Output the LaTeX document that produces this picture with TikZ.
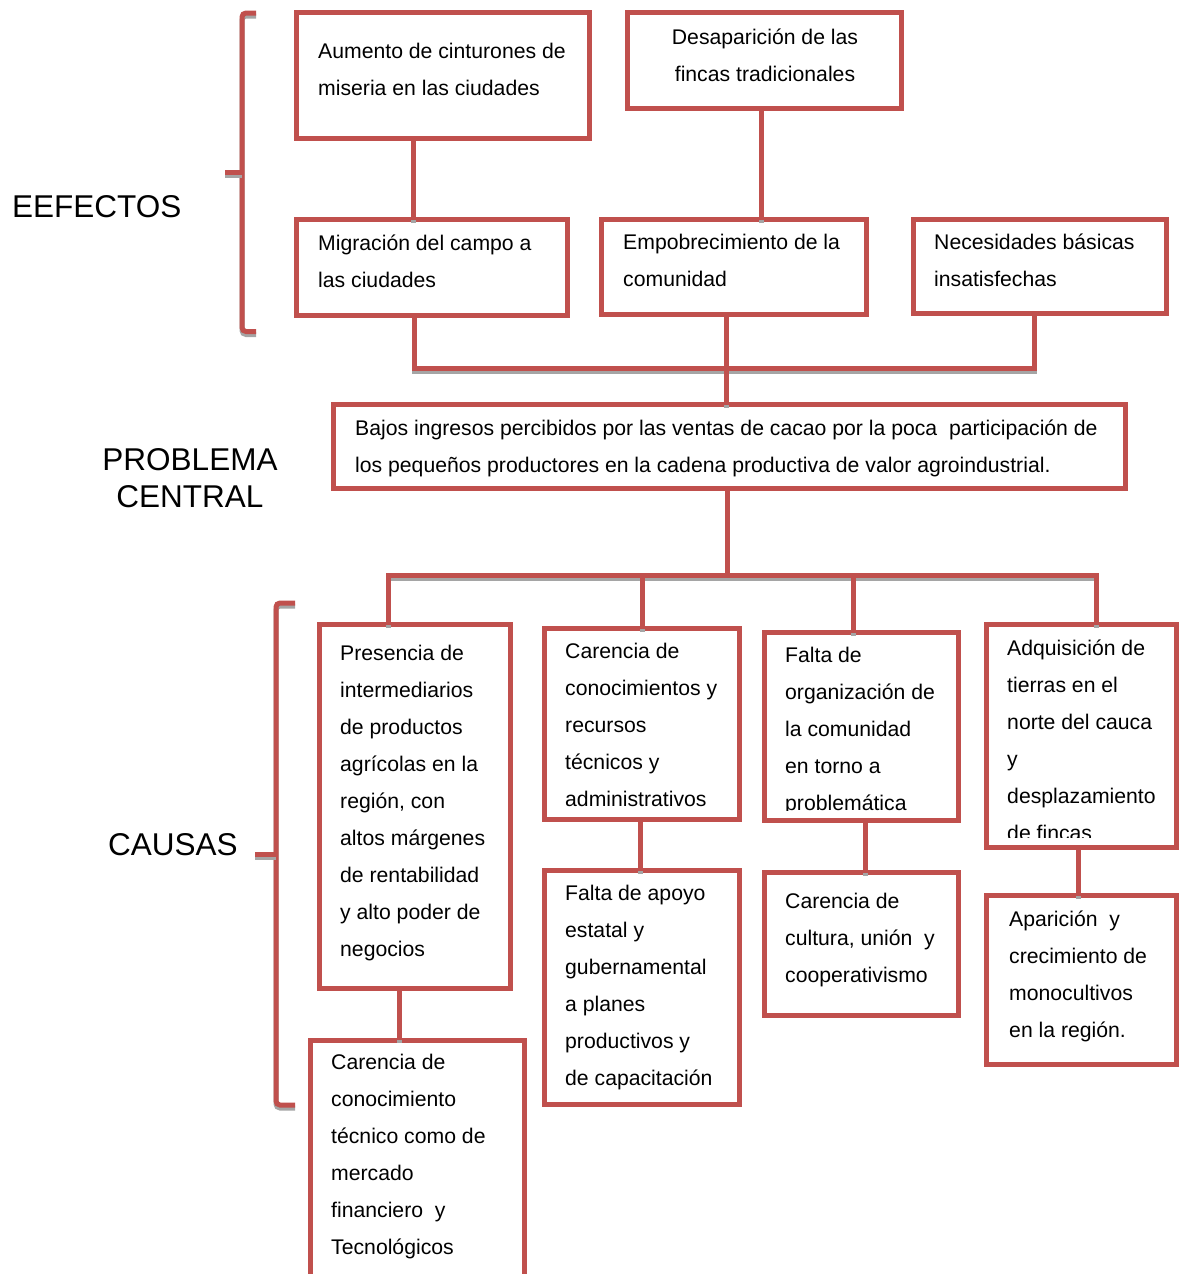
\documentclass[tikz,border=0pt]{standalone}
\usepackage{fontspec}
\setmainfont{Liberation Sans}
\definecolor{boxred}{RGB}{192,80,77}
\definecolor{shade}{RGB}{165,165,165}
\newcommand\boxfont{\fontsize{21.2}{37}\selectfont}
\newcommand\labfont{\fontsize{31.5}{36.5}\selectfont}
\begin{document}
\begin{tikzpicture}[x=1pt,y=-1pt,
  box/.style={draw=boxred, line width=5pt, inner sep=0pt, outer sep=0pt, fill=white},
  txt/.style={anchor=north west, yshift=25.9pt, align=left, inner sep=0pt, font=\boxfont},
  ctxt/.style={anchor=north, yshift=25.9pt, align=center, inner sep=0pt, font=\boxfont},
  lab/.style={inner sep=0pt, font=\labfont},
  conn/.style={draw=boxred, line width=5pt, line join=miter,
    preaction={draw=shade, line width=5pt, transform canvas={xshift=0pt,yshift=-3pt}}},
  brace/.style={draw=boxred, line width=5pt, rounded corners=4pt,
    preaction={draw=shade, line width=5pt, rounded corners=4pt, transform canvas={xshift=0pt,yshift=-3pt}}}]
\useasboundingbox (0,0) rectangle (1181,1274);
\clip (0,0) rectangle (1181,1274);

% ---------- effects ----------
\node[box, minimum width=293pt, minimum height=126pt] (b1) at (443,75.5) {};
\node[box, minimum width=274pt, minimum height=96pt] (b2) at (764.5,60.5) {};
\node[box, minimum width=271pt, minimum height=96pt] (b3) at (432,267.5) {};
\node[box, minimum width=265pt, minimum height=95pt] (b4) at (734,267) {};
\node[box, minimum width=253pt, minimum height=94pt] (b5) at (1040,266.5) {};

\node[txt] (t1) at (318,58) {\strut Aumento de cinturones de\\miseria en las ciudades};
\node[ctxt] (t2) at (765,44) {\strut Desaparición de las\\fincas tradicionales};
\node[txt] (t3) at (318,250) {\strut Migración del campo a\\las ciudades};
\node[txt] (t4) at (623,249) {\strut Empobrecimiento de la\\comunidad};
\node[txt] (t5) at (934,249) {\strut Necesidades básicas\\insatisfechas};

% ---------- central problem ----------
\node[box, minimum width=792pt, minimum height=84pt] (P) at (729.5,446.5) {};
\node[txt] (tP) at (355,435) {\strut Bajos ingresos percibidos por las ventas de cacao por la poca~ participación de\\los pequeños productores en la cadena productiva de valor agroindustrial.};

% ---------- causes ----------
\node[box, minimum width=191pt, minimum height=364pt] (A) at (415,806.5) {};
\node[box, minimum width=195pt, minimum height=191pt] (B) at (642,724) {};
\node[box, minimum width=194pt, minimum height=188pt] (C) at (861.5,726.5) {};
\node[box, minimum width=190pt, minimum height=223pt] (D) at (1081.5,736) {};
\node[box, minimum width=214pt, minimum height=250pt] (E) at (417.5,1165) {};
\node[box, minimum width=195pt, minimum height=234pt] (F) at (642,987.5) {};
\node[box, minimum width=194pt, minimum height=143pt] (G) at (861.5,944) {};
\node[box, minimum width=190pt, minimum height=169pt] (H) at (1081.5,980) {};

\node[txt] (tA) at (340,660) {\strut Presencia de\\intermediarios\\de productos\\agrícolas en la\\región, con\\altos márgenes\\de rentabilidad\\y alto poder de\\negocios};
\node[txt] (tB) at (565,658) {\strut Carencia de\\conocimientos y\\recursos\\técnicos y\\administrativos};
\begin{scope}
  \clip (767,635) rectangle (956,810);
  \node[txt] (tC) at (785,662) {\strut Falta de\\organización de\\la comunidad\\en torno a\\problemática};
\end{scope}
\begin{scope}
  \clip (989,627) rectangle (1174,837);
  \node[txt] (tD) at (1007,655) {\strut Adquisición de\\tierras en el\\norte del cauca\\y\\desplazamiento\\de fincas};
\end{scope}
\node[txt] (tE) at (331,1069) {\strut Carencia de\\conocimiento\\técnico como de\\mercado\\financiero~ y\\Tecnológicos};
\node[txt] (tF) at (565,900) {\strut Falta de apoyo\\estatal y\\gubernamental\\a planes\\productivos y\\de capacitación};
\node[txt] (tG) at (785,908) {\strut Carencia de\\cultura, unión~ y\\cooperativismo};
\node[txt] (tH) at (1009,926) {\strut Aparición~ y\\crecimiento de\\monocultivos\\en la región.};

% ---------- side labels ----------
\node[lab, anchor=west] (lE) at (12,207) {EEFECTOS};
\node[lab, align=center] (lP) at (190,478) {PROBLEMA\\CENTRAL};
\node[lab, anchor=west] (lC) at (108,845) {CAUSAS};

% ---------- connector taps ----------
\coordinate (x1) at (413,0);
\coordinate (x2) at (761,0);
\coordinate (xa) at (414,0);
\coordinate (xb) at (726,0);
\coordinate (xc) at (1034,0);
\coordinate (ebus) at (0,368);
\coordinate (xp) at (727,0);
\coordinate (cbus) at (0,575);
\coordinate (xA) at (388,0);
\coordinate (xB) at (642,0);
\coordinate (xC) at (853,0);
\coordinate (xD) at (1096,0);
\coordinate (xE) at (399,0);
\coordinate (xF) at (640,0);
\coordinate (xG) at (865,0);
\coordinate (xH) at (1078,0);

% ---------- connectors ----------
\draw[conn] (b1.south -| x1) -- (b3.north -| x1);
\draw[conn] (b2.south -| x2) -- (b4.north -| x2);
\draw[conn] (b3.south -| xa) |- (ebus -| xc) -- (b5.south -| xc);
\draw[conn] (b4.south -| xb) -- (P.north -| xb);
\draw[conn] (P.south -| xp) -- (cbus -| xp);
\draw[conn] (A.north -| xA) |- (cbus -| xD) -- (D.north -| xD);
\draw[conn] (cbus -| xB) -- (B.north -| xB);
\draw[conn] (cbus -| xC) -- (C.north -| xC);
\draw[conn] (A.south -| xE) -- (E.north -| xE);
\draw[conn] (B.south -| xF) -- (F.north -| xF);
\draw[conn] (C.south -| xG) -- (G.north -| xG);
\draw[conn] (D.south -| xH) -- (H.north -| xH);

% ---------- braces ----------
\draw[brace] (256,13) -- (242,13) -- (242,331.5) -- (256,331.5);
\draw[brace] (242,172) -- (225,172);
\draw[brace] (295,603) -- (276,603) -- (276,1105) -- (295,1105);
\draw[brace] (276,854) -- (255,854);
\end{tikzpicture}
\end{document}
